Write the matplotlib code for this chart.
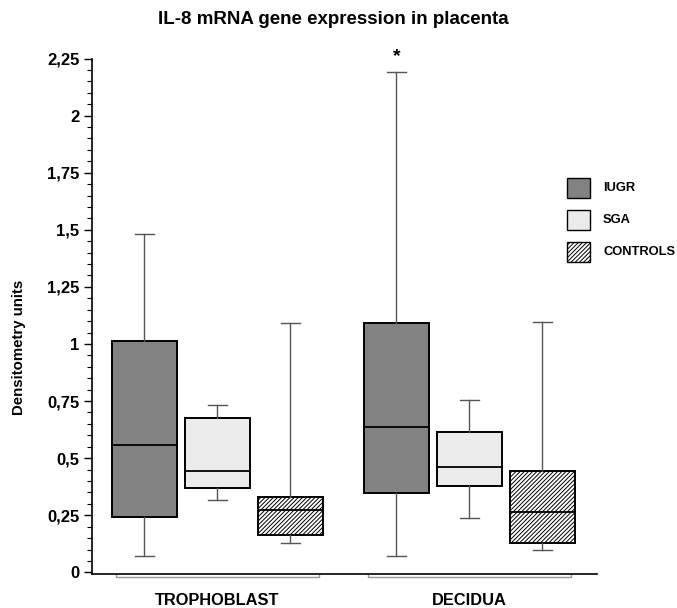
import matplotlib.pyplot as plt
from matplotlib.patches import Rectangle
import numpy as np

plt.rcParams["font.family"] = ["Liberation Sans", "DejaVu Sans"]
plt.rcParams["font.weight"] = "bold"
plt.rcParams["hatch.linewidth"] = 0.7

tissues = ["TROPHOBLAST", "DECIDUA"]
groups = ["IUGR", "SGA", "CONTROLS"]

whislo = {"IUGR": [0.07, 0.07], "SGA": [0.315, 0.236], "CONTROLS": [0.127, 0.096]}
q1 = {"IUGR": [0.241, 0.346], "SGA": [0.368, 0.377], "CONTROLS": [0.162, 0.127]}
med = {"IUGR": [0.556, 0.635], "SGA": [0.442, 0.460], "CONTROLS": [0.271, 0.263]}
q3 = {"IUGR": [1.011, 1.090], "SGA": [0.674, 0.613], "CONTROLS": [0.328, 0.442]}
whishi = {"IUGR": [1.480, 2.190], "SGA": [0.731, 0.753], "CONTROLS": [1.090, 1.095]}

FILL = {"IUGR": "#828282", "SGA": "#ebebeb", "CONTROLS": "white"}
HATCH = {"IUGR": None, "SGA": None, "CONTROLS": "////////"}

fig = plt.figure(figsize=(6.77, 6.08), dpi=100)
ax = fig.add_axes([92 / 677, 34.5 / 608, 505 / 677, 515 / 608])

centers = [1.719, 5.171]
offsets = [-1.0, 0.0, 1.0]
width = 0.89

for t, c in enumerate(centers):
    for g, off in zip(groups, offsets):
        stats = [{
            "whislo": whislo[g][t], "q1": q1[g][t], "med": med[g][t],
            "q3": q3[g][t], "whishi": whishi[g][t], "fliers": [],
        }]
        ax.bxp(stats, positions=[c + off], widths=width, patch_artist=True,
               showfliers=False, capwidths=0.27,
               boxprops=dict(facecolor=FILL[g], edgecolor="black", linewidth=1.4,
                             hatch=HATCH[g]),
               medianprops=dict(color="black", linewidth=1.3),
               whiskerprops=dict(color="#555555", linewidth=1.0),
               capprops=dict(color="#555555", linewidth=1.0))

# significance mark over decidua IUGR
ax.text(centers[1] - 1.0, whishi["IUGR"][1] + 0.03, "*", ha="center", va="bottom",
        fontsize=14, clip_on=False)

# brackets under each tissue
for c in centers:
    xs = [c - 1.384, c - 1.384, c + 1.384, c + 1.384]
    ys = [-0.012, -0.02, -0.02, -0.012]
    ax.plot(xs, ys, color="#999999", linewidth=1.0, clip_on=False)

ax.set_xlim(0, 505 / 73)
ax.set_ylim(-0.005, 2.25)
ax.set_yticks(np.arange(0, 2.26, 0.25))
ax.set_yticklabels(["0", "0,25", "0,5", "0,75", "1", "1,25", "1,5", "1,75", "2", "2,25"])
ax.set_yticks(np.arange(0, 2.26, 0.05), minor=True)
ax.tick_params(axis="y", which="major", length=6, width=1, labelsize=12, pad=3)
ax.tick_params(axis="y", which="minor", length=3.5, width=0.8)
ax.set_xticks(centers)
ax.set_xticklabels(tissues)
ax.tick_params(axis="x", length=0, labelsize=11.8, pad=14)

ax.spines["top"].set_visible(False)
ax.spines["right"].set_visible(False)
ax.spines["left"].set_linewidth(1.2)
ax.spines["bottom"].set_linewidth(1.2)

ax.set_ylabel("Densitometry units", fontsize=10.8, fontweight="bold")
ax.yaxis.set_label_coords(-0.13, 0.44)

fig.text(333 / 677, 1 - 20 / 608, "IL-8 mRNA gene expression in placenta",
         ha="center", va="center", fontsize=13.5, fontweight="bold")

# legend drawn by hand, in figure pixels
legend_y = [188, 220, 252]
for g, yc in zip(groups, legend_y):
    fig.add_artist(Rectangle((567 / 677, 1 - (yc + 10) / 608), 23 / 677, 20 / 608,
                             transform=fig.transFigure, facecolor=FILL[g],
                             edgecolor="black", linewidth=1.0, hatch=HATCH[g]))
    fig.text(603 / 677, 1 - yc / 608, g, ha="left", va="center", fontsize=9.3,
             fontweight="bold")

fig.savefig("out.png", dpi=100)
